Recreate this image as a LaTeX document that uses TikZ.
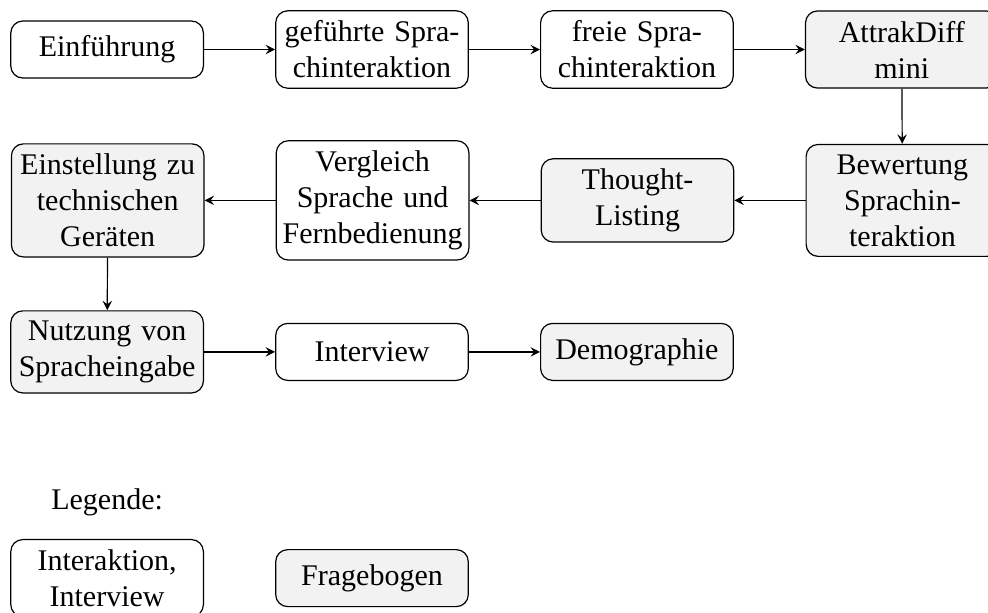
\documentclass[tikz,border=0pt]{standalone}
\usepackage{fontspec}
\setmainfont{Liberation Serif}
\usetikzlibrary{positioning,arrows}

\begin{document}
\begin{tikzpicture}
[x=1pt,y=1pt,node distance=23.7pt,
 schritt/.style={draw,rounded corners,text width=60pt,inner xsep=2.1pt,align=center,minimum height=19pt},
 frage/.style={schritt,fill=gray!10},
 pfeil/.style={-stealth}]
\useasboundingbox (0,0) rectangle (329.33,-204);
\node[schritt] (einf) at (35.7,-16.5) {Einführung};
\node[schritt,right=of einf] (gef) {geführte Spra-\\chinteraktion};
\node[schritt,right=of gef] (frei) {freie Spra-\\chinteraktion};
\node[frage,right=of frei] (attrak) {AttrakDiff\\mini};
\node[frage] (bew) at (300.8,-66.8) {Bewertung\\Sprachin-\\teraktion};
\node[frage,left=of bew] (thought) {Thought-\\Listing};
\node[schritt,left=of thought] (vergl) {Vergleich\\Sprache und\\Fernbedienung};
\node[frage,left=of vergl] (einst) {Einstellung zu\\technischen\\Geräten};
\node[frage] (nutz) at (35.7,-117.3) {Nutzung von\\Spracheingabe};
\node[schritt,right=of nutz] (interv) {Interview};
\node[frage,right=of interv] (demo) {Demographie};
\node (legende) at (35.7,-167.3) {Legende:};
\node[schritt] (leginter) at (35.7,-192.7) {Interaktion,\\Interview};
\node[frage,right=of leginter] (legfrage) {Fragebogen};
\foreach \von/\nach in {einf/gef,gef/frei,frei/attrak,attrak/bew,bew/thought,
  thought/vergl,vergl/einst,einst/nutz,nutz/interv,interv/demo}
  \draw[pfeil] (\von) -- (\nach);
\end{tikzpicture}
\end{document}
